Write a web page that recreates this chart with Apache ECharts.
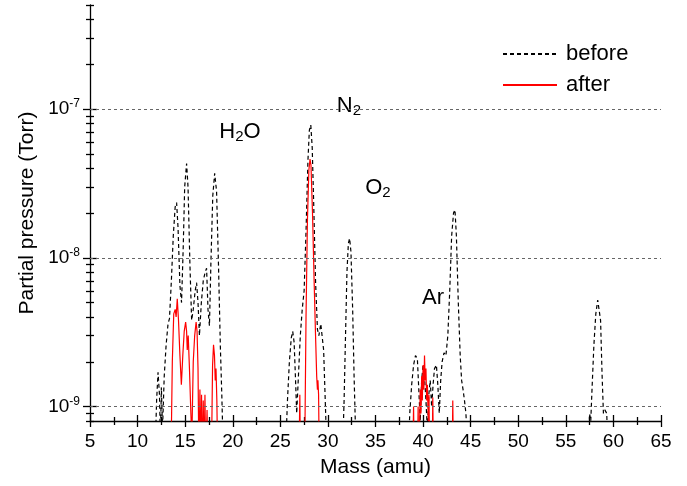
<!DOCTYPE html>
<html>
<head>
<meta charset="utf-8">
<script src="https://cdn.jsdelivr.net/npm/echarts@6/dist/echarts.min.js"></script>
<style>html,body{margin:0;padding:0;background:#fff;}#c{width:687px;height:486px;}</style>
</head>
<body>
<div id="c"></div>
<script>
// ---- data (mass in amu, partial pressure in Torr) ----
const beforeMass = [11.8,12.0,12.15,12.3,12.4,12.5,12.62,12.8,13.0,13.2,13.35,13.55,13.75,13.95,14.1,14.25,14.45,14.62,14.8,14.95,15.15,15.3,15.5,15.68,15.85,16.05,16.2,16.35,16.5,16.7,16.9,17.1,17.25,17.4,17.55,17.7,17.9,18.1,18.3,18.5,18.7,18.85,19.0,19.2,
  25.5,25.75,25.95,26.15,26.3,26.45,26.6,26.72,26.9,27.1,27.3,27.5,27.7,27.9,28.05,28.2,28.35,28.5,28.7,28.9,29.05,29.25,29.4,29.55,29.7,29.85,30.0,
  31.5,31.7,31.85,32.0,32.15,32.28,32.42,32.6,32.75,32.9,33.05,
  38.4,38.6,38.8,39.0,39.2,39.4,39.55,39.7,39.85,40.0,40.15,40.3,40.45,40.6,40.75,40.9,41.05,41.2,41.4,41.55,41.7,41.85,42.0,42.2,42.4,42.6,42.8,43.0,43.2,43.35,43.5,43.7,43.9,44.05,44.2,44.35,44.5,44.65,44.8,
  57.3,57.5,57.62,57.75,57.95,58.15,58.35,58.5,58.65,58.8,58.95,59.1,59.3,59.45];
const beforeP = [4e-10,1.1e-9,1.7e-9,1.2e-9,6e-10,1.35e-9,7e-10,1.6e-9,2.6e-9,3.6e-9,3.9e-9,7e-9,1.4e-8,2.2e-8,2.35e-8,1.6e-8,6.5e-9,5e-9,1.2e-8,3e-8,4.3e-8,3e-8,9e-9,3.8e-9,4.5e-9,6e-9,6.8e-9,5e-9,3e-9,5e-9,7e-9,8e-9,8.5e-9,4.5e-9,3.5e-9,9e-9,2.6e-8,3.7e-8,2.8e-8,9e-9,2.5e-9,1.2e-9,5e-10,4e-10,
  4e-10,1.1e-9,2e-9,2.9e-9,3.2e-9,2.7e-9,1.5e-9,9e-10,1.6e-9,3e-9,4.5e-9,6e-9,1.5e-8,4.5e-8,7.2e-8,7.8e-8,5.5e-8,2.4e-8,7e-9,3.3e-9,3e-9,3.6e-9,3.5e-9,2.4e-9,1.2e-9,6e-10,4e-10,
  4e-10,1.1e-9,3e-9,8e-9,1.25e-8,1.35e-8,1.1e-8,4.5e-9,1.6e-9,7e-10,4e-10,
  4e-10,9e-10,1.4e-9,1.9e-9,2.2e-9,2.1e-9,1.3e-9,8e-10,1.5e-9,1.9e-9,1.6e-9,1.1e-9,7e-10,1.2e-9,1.5e-9,1.0e-9,1.4e-9,1.8e-9,1.9e-9,1.4e-9,9e-10,1.5e-9,2.0e-9,2.3e-9,2.2e-9,3e-9,6e-9,1.4e-8,2.0e-8,2.1e-8,1.4e-8,5e-9,2.2e-9,1.5e-9,1.3e-9,1.1e-9,9e-10,6e-10,4e-10,
  4e-10,9e-10,8e-10,1.3e-9,2.6e-9,4.2e-9,5.2e-9,5.3e-9,3.8e-9,1.7e-9,9e-10,9.5e-10,9e-10,4e-10];

const afterMass = [13.5,13.65,13.8,13.95,14.05,14.17,14.3,14.45,14.6,14.75,14.9,15.05,15.15,15.22,15.32,15.45,15.6,15.7,15.85,16.0,16.15,16.25,16.35,16.45,16.55,16.62,16.72,16.8,16.9,16.98,17.08,17.16,17.3,17.4,17.75,17.88,17.98,18.08,18.16,18.24,18.33,18.42,
  26.95,27.05,27.12,27.55,27.7,27.85,28.0,28.12,28.22,28.38,28.55,28.7,28.82,28.9,28.95,29.02,29.1,
  38.9,39.0,39.08,39.4,39.48,39.55,39.7,39.78,39.85,39.92,40.0,40.08,40.15,40.22,40.3,40.38,40.45,40.55,40.62,40.7,40.95,41.02,41.1,
  43.05,43.12,43.2];
const afterP = [4e-10,2e-9,4.2e-9,4.5e-9,4e-9,5.3e-9,3.8e-9,2.2e-9,1.4e-9,2.2e-9,3.2e-9,3.7e-9,3.2e-9,2.4e-9,3.0e-9,1.8e-9,9e-10,6e-10,2e-9,3.0e-9,3.7e-9,3.2e-9,1.8e-9,4e-10,1.3e-9,4e-10,1.2e-9,4e-10,1.1e-9,4e-10,1.2e-9,4e-10,9.5e-10,4e-10,4e-10,1.9e-9,2.6e-9,2.2e-9,1.5e-9,1.8e-9,1.1e-9,4e-10,
  4e-10,1.2e-9,4e-10,4e-10,4e-9,1.8e-8,3.9e-8,4.6e-8,4.2e-8,2e-8,7e-9,3e-9,1.6e-9,1.3e-9,1.5e-9,1.2e-9,4e-10,
  4e-10,1.0e-9,4e-10,4e-10,1.0e-9,4e-10,1.3e-9,9e-10,1.6e-9,1.1e-9,1.9e-9,1.3e-9,2.2e-9,1.5e-9,1.8e-9,1.1e-9,1.4e-9,8e-10,1.2e-9,4e-10,4e-10,1.15e-9,4e-10,
  4e-10,1.1e-9,4e-10];

// annotation labels
const labelNames = ['H2O','N2','O2','Ar'];
const labelMass = [20.76, 32.2, 35.26, 41.04];
const labelP = [7.0e-8, 1.05e-7, 2.95e-8, 5.4e-9];

// axis ticks
const yRange = [8e-10, 5e-7];
const yMajor = [1e-9, 1e-8, 1e-7];
const yMinor = [8e-10,9e-10,2e-9,3e-9,4e-9,5e-9,6e-9,7e-9,8e-9,9e-9,2e-8,3e-8,4e-8,5e-8,6e-8,7e-8,8e-8,9e-8,2e-7,3e-7,4e-7,5e-7];
const xRange = [5, 65];
const xStep = 5;

// ---- build ----
const FONT = "'Liberation Sans', Arial, Helvetica, sans-serif";
const L = v => Math.log10(v);
const yMin = L(yRange[0]), yMax = L(yRange[1]);
const majorLog = yMajor.map(L);
const minorLog = yMinor.map(L);
const toSeries = (ms, ps) => ms.map((m, i) => [m, L(ps[i])]);

function yAxisDef(ticks, len, inside, withLabel) {
  return {
    type: 'value', min: yMin, max: yMax, position: 'left',
    axisLine: {show: withLabel, lineStyle: {color: '#000', width: 1.3}},
    axisTick: {show: true, inside: inside, length: len, customValues: ticks, lineStyle: {color: '#000', width: 1.3}},
    axisLabel: withLabel ? {
      show: true, customValues: majorLog, margin: 10,
      formatter: v => '{b|10}{s|' + Math.round(v) + '}',
      rich: {b: {fontSize: 19, fontFamily: FONT, color: '#000'}, s: {fontSize: 12, fontFamily: FONT, color: '#000', padding: [0,0,10,0]}}
    } : {show: false},
    splitLine: {show: false},
    name: withLabel ? 'Partial pressure (Torr)' : '',
    nameLocation: 'middle', nameGap: 52, nameRotate: 90,
    nameTextStyle: {fontSize: 21, fontFamily: FONT, color: '#000'}
  };
}
function xAxisDef(inside, withLabel) {
  return {
    type: 'value', min: xRange[0], max: xRange[1], interval: xStep, position: 'bottom',
    axisLine: {show: withLabel, onZero: false, lineStyle: {color: '#000', width: 1.3}},
    axisTick: {show: true, inside: inside, length: 6, lineStyle: {color: '#000', width: 1.3}},
    minorTick: {show: true, splitNumber: 2, length: 4, lineStyle: {color: '#000', width: 1.3}},
    axisLabel: withLabel ? {show: true, fontSize: 19, fontFamily: FONT, color: '#000', margin: 11} : {show: false},
    splitLine: {show: false},
    name: withLabel ? 'Mass (amu)' : '',
    nameLocation: 'middle', nameGap: 36,
    nameTextStyle: {fontSize: 21, fontFamily: FONT, color: '#000'}
  };
}

const richLabel = {
  n: {fontSize: 22, fontFamily: FONT, color: '#000'},
  s: {fontSize: 15, fontFamily: FONT, color: '#000', padding: [10,0,0,0]}
};
const labelFmt = name => {
  if (name === 'Ar') return '{n|Ar}';
  return '{n|' + name[0] + '}{s|2}' + (name.length > 2 ? '{n|' + name.slice(2) + '}' : '');
};

const chart = echarts.init(document.getElementById('c'), null, {renderer: 'canvas'});
chart.setOption({
  animation: false,
  backgroundColor: '#fff',
  textStyle: {fontFamily: FONT},
  grid: {left: 90, right: 26, top: 5, bottom: 65, containLabel: false},
  legend: {
    data: ['before', 'after'], orient: 'vertical', left: 502, top: 43, padding: 0,
    itemWidth: 54, itemHeight: 12, itemGap: 9,
    itemStyle: {opacity: 0},
    textStyle: {fontSize: 22, fontFamily: FONT, color: '#000', padding: [0,0,0,4]}
  },
  xAxis: [xAxisDef(true, true), xAxisDef(false, false)],
  yAxis: [yAxisDef(majorLog, 7, true, true), yAxisDef(majorLog, 7, false, false),
          yAxisDef(minorLog, 4, true, false), yAxisDef(minorLog, 4, false, false)],
  series: [
    {
      name: 'before', type: 'line', xAxisIndex: 0, yAxisIndex: 0,
      data: toSeries(beforeMass, beforeP), symbol: 'none', clip: true,
      lineStyle: {color: '#000', width: 1.2, type: [4, 3]}, itemStyle: {color: '#000'},
      markLine: {
        silent: true, symbol: 'none', label: {show: false},
        lineStyle: {color: '#666', width: 1, type: [3, 3]},
        data: majorLog.map(v => ({yAxis: v}))
      }
    },
    {
      name: 'after', type: 'line', xAxisIndex: 0, yAxisIndex: 0,
      data: toSeries(afterMass, afterP), symbol: 'none', clip: true,
      lineStyle: {color: '#ff0000', width: 1.2}, itemStyle: {color: '#ff0000'}
    },
    {
      name: 'labels', type: 'scatter', xAxisIndex: 0, yAxisIndex: 0, silent: true,
      symbolSize: 0,
      data: labelNames.map((n, i) => ({name: n, value: [labelMass[i], L(labelP[i])]})),
      label: {show: true, position: 'inside', color: '#000', opacity: 1, formatter: p => labelFmt(p.name), rich: richLabel}
    }
  ]
});
</script>
</body>
</html>
